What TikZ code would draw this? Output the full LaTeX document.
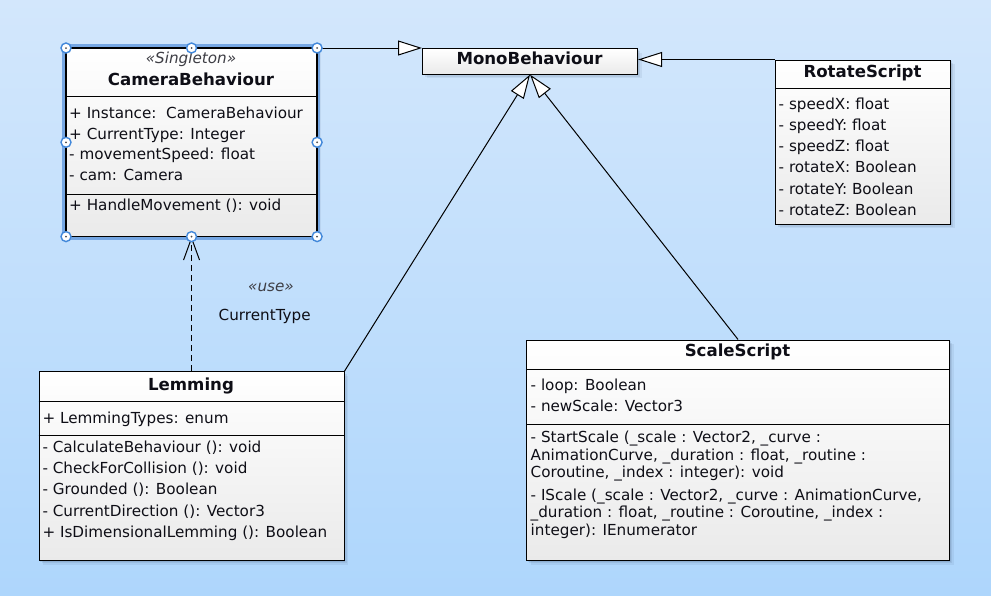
\documentclass[tikz,border=0pt]{standalone}
\usepackage{fontspec}
\setmainfont{DejaVu Sans}
\usetikzlibrary{arrows.meta,shadows}
\definecolor{bgtop}{RGB}{211,231,252}
\definecolor{bgbot}{RGB}{174,214,252}
\definecolor{ink}{RGB}{14,14,22}
\definecolor{boxbot}{RGB}{234,234,234}
\definecolor{selblue}{RGB}{110,162,226}
\definecolor{hdlblue}{RGB}{66,136,218}
\definecolor{shade}{RGB}{50,70,100}
\begin{document}
\begin{tikzpicture}[x=1pt,y=-1pt,
  cls/.style={rectangle, draw=black, line width=1.1pt, inner sep=0pt, anchor=north west,
    drop shadow={shadow xshift=4pt, shadow yshift=-4pt, opacity=0.08, fill=shade},
    drop shadow={shadow xshift=2.5pt, shadow yshift=-2.5pt, opacity=0.10, fill=shade},
    drop shadow={shadow xshift=1pt, shadow yshift=-1pt, opacity=0.12, fill=shade},
    top color=white, bottom color=boxbot},
  selband/.style={draw=selblue, line width=3.4pt, opacity=0.9},
  sepline/.style={draw=black, line width=1pt},
  txt/.style={inner sep=0pt, anchor=base west, text=ink, font=\fontsize{15.2}{18}\selectfont},
  ttl/.style={inner sep=0pt, anchor=base, text=ink, font=\fontsize{16.6}{20}\selectfont\bfseries},
  stereo/.style={inner sep=0pt, anchor=base, text=ink!80, font=\fontsize{15.2}{18}\selectfont\itshape},
  lbl/.style={inner sep=0pt, anchor=base, text=ink, font=\fontsize{15.2}{18}\selectfont},
  gen/.style={draw=black, line width=1pt, -{Triangle[length=24pt,width=15pt,fill=white]}},
  dep/.style={draw=black, line width=1pt, dash pattern=on 6pt off 4pt, -{Straight Barb[length=22pt,width=16pt]}},
  handle/.style={circle, draw=hdlblue, fill=white, line width=1.4pt, minimum size=10pt, inner sep=0pt,
    path picture={\fill[black!70] (path picture bounding box.center) circle (1pt);}}
]
% canvas
\useasboundingbox (0,0) rectangle (991,595);
\shade[top color=bgtop, bottom color=bgbot] (0,0) rectangle (991,595);

% ---- CameraBehaviour ----
\node[cls, minimum width=250pt, minimum height=187.5pt] (cam) at (66,48) {};
\draw[selband] (cam.north west) ++(-2.4,-2.4) rectangle ++(254.8,192.3);
\draw[draw=black, line width=1.1pt] (cam.north west) rectangle (cam.south east);
\draw[sepline] (cam.north west) ++(0,48.3) -- ++(250,0);
\draw[sepline] (cam.north west) ++(0,146.3) -- ++(250,0);
\node[stereo] (cam-st) at (191,63.5) {«Singleton»};
\node[ttl] (cam-t) at (191,85) {CameraBehaviour};
\node[txt] (cam-a1) at (69,118.3) {+ Instance:\ \ CameraBehaviour};
\node[txt] (cam-a2) at (69,139) {+ CurrentType: Integer};
\node[txt] (cam-a3) at (69,159.7) {- movementSpeed: float};
\node[txt] (cam-a4) at (69,180.4) {- cam: Camera};
\node[txt] (cam-o1) at (69,210.7) {+ HandleMovement (): void};

% ---- MonoBehaviour ----
\node[cls, minimum width=215pt, minimum height=25.5pt] (mono) at (422,48) {};
\node[ttl] (mono-t) at (529.5,64.3) {MonoBehaviour};

% ---- RotateScript ----
\node[cls, minimum width=175pt, minimum height=164pt] (rot) at (775,59.5) {};
\draw[sepline] (rot.north west) ++(0,28.8) -- ++(175,0);
\node[ttl] (rot-t) at (862.5,77.3) {RotateScript};
\node[txt] (rot-a1) at (778.5,109) {- speedX: float};
\node[txt] (rot-a2) at (778.5,130.3) {- speedY: float};
\node[txt] (rot-a3) at (778.5,151.6) {- speedZ: float};
\node[txt] (rot-a4) at (778.5,172.9) {- rotateX: Boolean};
\node[txt] (rot-a5) at (778.5,194.2) {- rotateY: Boolean};
\node[txt] (rot-a6) at (778.5,215.5) {- rotateZ: Boolean};

% ---- Lemming ----
\node[cls, minimum width=305pt, minimum height=189pt] (lem) at (38.5,371) {};
\draw[sepline] (lem.north west) ++(0,30) -- ++(305,0);
\draw[sepline] (lem.north west) ++(0,64) -- ++(305,0);
\node[ttl] (lem-t) at (191,390.7) {Lemming};
\node[txt] (lem-a1) at (42.3,423.3) {+ LemmingTypes: enum};
\node[txt] (lem-o1) at (42.3,452.3) {- CalculateBehaviour (): void};
\node[txt] (lem-o2) at (42.3,473.6) {- CheckForCollision (): void};
\node[txt] (lem-o3) at (42.3,494.9) {- Grounded (): Boolean};
\node[txt] (lem-o4) at (42.3,516.2) {- CurrentDirection (): Vector3};
\node[txt] (lem-o5) at (42.3,537.5) {+ IsDimensionalLemming (): Boolean};

% ---- ScaleScript ----
\node[cls, minimum width=423pt, minimum height=220.5pt] (scale) at (526,339.5) {};
\draw[sepline] (scale.north west) ++(0,29.8) -- ++(423,0);
\draw[sepline] (scale.north west) ++(0,84.8) -- ++(423,0);
\node[ttl] (scale-t) at (737.5,356.7) {ScaleScript};
\node[txt] (scale-a1) at (530.5,390) {- loop: Boolean};
\node[txt] (scale-a2) at (530.5,411.3) {- newScale: Vector3};
\node[txt] (scale-o1a) at (530.5,442.3) {- StartScale (\_scale : Vector2, \_curve :};
\node[txt] (scale-o1b) at (530.5,460) {AnimationCurve, \_duration : float, \_routine :};
\node[txt] (scale-o1c) at (530.5,477.7) {Coroutine, \_index : integer): void};
\node[txt] (scale-o2a) at (530.5,500) {- IScale (\_scale : Vector2, \_curve : AnimationCurve,};
\node[txt] (scale-o2b) at (530.5,517.7) {\_duration : float, \_routine : Coroutine, \_index :};
\node[txt] (scale-o2c) at (530.5,535.4) {integer): IEnumerator};

% ---- relations ----
\draw[gen] (cam.north east) -- (mono.north west);
\draw[gen] (rot.north west) -- (rot.north west -| mono.east);
\draw[gen] (lem.north east) -- (mono.south);
\draw[gen] (scale.north) -- (mono.south);
\draw[dep] (lem.north) -- (cam.south);
\node[stereo] (use-st) at (271,291.7) {«use»};
\node[lbl] (use-lbl) at (264.7,320.7) {CurrentType};

% ---- selection handles ----
\foreach \a/\n in {north west/1, north/2, north east/3, west/4, east/5, south west/6, south/7, south east/8}
  \node[handle] (hdl\n) at (cam.\a) {};
\end{tikzpicture}
\end{document}
